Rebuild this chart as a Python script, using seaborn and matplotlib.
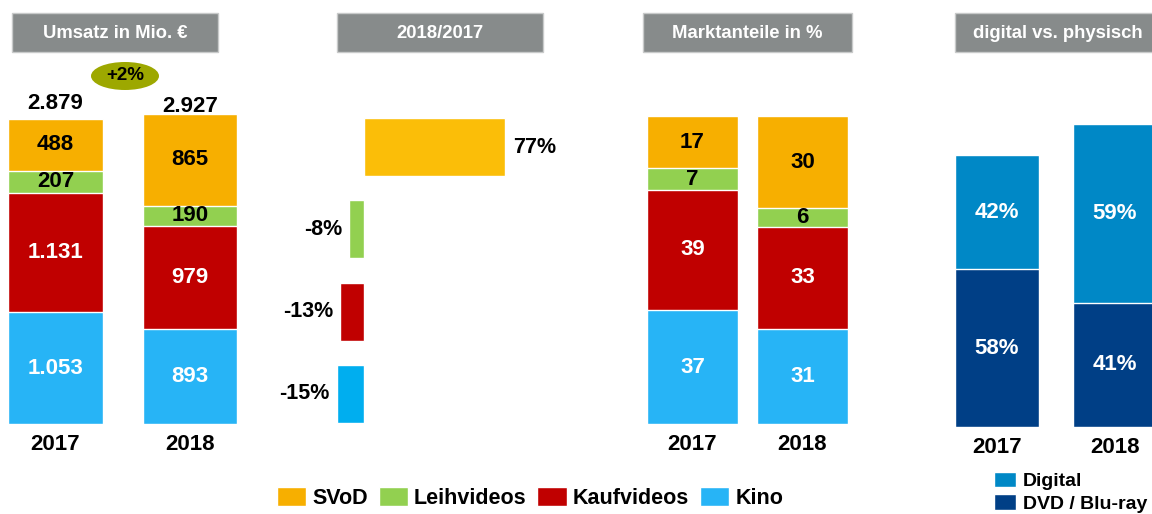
import matplotlib
matplotlib.use("Agg")
import matplotlib.pyplot as plt
from matplotlib.patches import Rectangle, Ellipse, Patch
import numpy as np
import pandas as pd
import seaborn as sns

# data
years = ["2017", "2018"]
segments = ["Kino", "Kaufvideos", "Leihvideos", "SVoD"]  # bottom -> top
umsatz = {"Kino": [1053, 893], "Kaufvideos": [1131, 979],
          "Leihvideos": [207, 190], "SVoD": [488, 865]}
umsatz_total = [2879, 2927]
umsatz_change = "+2%"

change_cats = ["SVoD", "Leihvideos", "Kaufvideos", "Kino"]
change_pct = [77, -8, -13, -15]

anteile = {"Kino": [37, 31], "Kaufvideos": [39, 33],
           "Leihvideos": [7, 6], "SVoD": [17, 30]}

dig_segments = ["DVD / Blu-ray", "Digital"]  # bottom -> top
dig_values = {"DVD / Blu-ray": [1059, 834], "Digital": [767, 1200]}
dig_pct = {"DVD / Blu-ray": [58, 41], "Digital": [42, 59]}

titles = ["Umsatz in Mio. €", "2018/2017", "Marktanteile in %", "digital vs. physisch"]

# colours
stack_colors = {"SVoD": "#F7AF00", "Leihvideos": "#92D050",
                "Kaufvideos": "#C00000", "Kino": "#27B4F6"}
change_colors = {"SVoD": "#FBBE08", "Leihvideos": "#92D050",
                 "Kaufvideos": "#C00000", "Kino": "#00AEEF"}
dig_colors = {"Digital": "#0088C6", "DVD / Blu-ray": "#003F86"}
label_colors = {"SVoD": "black", "Leihvideos": "black",
                "Kaufvideos": "white", "Kino": "white"}

sns.set_style("white")
plt.rcParams["font.family"] = ["Liberation Sans", "DejaVu Sans"]
plt.rcParams["font.weight"] = "bold"
plt.rcParams["text.color"] = "black"
plt.rcParams["xtick.color"] = "black"

W, H = 1152, 514
fig = plt.figure(figsize=(W / 100, H / 100), dpi=100)
fig.patch.set_facecolor("white")


def px_axes(x0, x1, y0, y1):
    return fig.add_axes([x0 / W, 1 - y1 / H, (x1 - x0) / W, (y1 - y0) / H])


def de_fmt(v):
    return f"{v:,}".replace(",", ".")


def clean(ax):
    for s in ax.spines.values():
        s.set_visible(False)
    ax.set_ylabel("")
    ax.set_xlabel("")
    ax.set_yticks([])
    ax.tick_params(axis="x", length=0, pad=7, labelsize=16, labelcolor="black")
    for t in ax.get_xticklabels():
        t.set_fontweight("bold")
    ax.set_facecolor("none")


def stacked(ax, data, order, colors, width, fmt, txtcolors):
    df = pd.DataFrame(data, index=years)[order]
    cum = df.cumsum(axis=1)
    # draw tallest first so lower segments overlay
    for seg in order[::-1]:
        sns.barplot(x=years, y=cum[seg].values, color=colors[seg], saturation=1,
                    width=width, edgecolor="white", linewidth=1, ax=ax)
    for seg in order:
        mids = cum[seg] - df[seg] / 2
        for i, y in enumerate(mids):
            ax.text(i, y, fmt(seg, i, df[seg].iloc[i]), ha="center", va="center",
                    fontsize=16, fontweight="bold", color=txtcolors[seg])
    return cum


# title boxes
boxes = [(12, 218), (337, 543), (643, 852), (955, 1160)]
for (x0, x1), t in zip(boxes, titles):
    fig.add_artist(Rectangle((x0 / W, 1 - 52 / H), (x1 - x0) / W, 39 / H,
                             transform=fig.transFigure, facecolor="#878B8B",
                             edgecolor="#C8CACA", linewidth=1))
    fig.text((x0 + x1) / 2 / W, 1 - 33 / H, t, ha="center", va="center",
             color="white", fontsize=13.3, fontweight="bold")

# panel 1: Umsatz
ax1 = px_axes(-11.75, 257.25, 60, 424)
cum1 = stacked(ax1, umsatz, segments, stack_colors, 0.706,
               lambda s, i, v: de_fmt(v), label_colors)
ax1.set_xlim(-0.5, 1.5)
ax1.set_ylim(0, 364 * 2879 / 305)
clean(ax1)
for i, (tot, off) in enumerate(zip(umsatz_total, [7, 1.5])):
    ax1.annotate(de_fmt(tot), (i, tot), xytext=(0, off), textcoords="offset points",
                 ha="center", va="baseline", fontsize=16, fontweight="bold")
fig.add_artist(Ellipse((125 / W, 1 - 76 / H), 68 / W, 28 / H,
                       transform=fig.transFigure, facecolor="#9DA800", edgecolor="none"))
fig.text(125 / W, 1 - 76 / H, umsatz_change, ha="center", va="center",
         fontsize=13.5, fontweight="bold")

# panel 2: change 2018/2017
ax2 = px_axes(300, 600, 106, 435)
sns.barplot(x=change_pct, y=change_cats, hue=change_cats, palette=change_colors,
            saturation=1, orient="h", width=0.705, legend=False,
            edgecolor="white", linewidth=1, ax=ax2)
ax2.set_xlim((300 - 364) / 1.83, (600 - 364) / 1.83)
ax2.set_ylim(3.5, -0.5)
for s in ax2.spines.values():
    s.set_visible(False)
ax2.set_xticks([])
ax2.set_yticks([])
ax2.set_xlabel("")
ax2.set_ylabel("")
ax2.set_facecolor("none")
for i, v in enumerate(change_pct):
    ax2.annotate(f"{v}%", (v, i), xytext=(6 if v > 0 else -5, 0),
                 textcoords="offset points", ha="left" if v > 0 else "right",
                 va="center", fontsize=15.5, fontweight="bold",
                 family=["Liberation Sans Narrow", "Liberation Sans"])

# panel 3: Marktanteile
ax3 = px_axes(637.5, 857.5, 60, 424)
stacked(ax3, anteile, segments, stack_colors, 0.827,
        lambda s, i, v: str(v), label_colors)
ax3.set_xlim(-0.5, 1.5)
ax3.set_ylim(0, 364 / 3.08)
clean(ax3)

# panel 4: digital vs physisch
ax4 = px_axes(938, 1152, 60, 427)
stacked(ax4, dig_values, dig_segments, dig_colors, 0.712,
        lambda s, i, v: f"{dig_pct[s][i]}%", {"Digital": "white", "DVD / Blu-ray": "white"})
ax4.set_xlim(-0.5, (1152 - 997) / 118)
ax4.set_ylim(0, 367 * 1826 / 272)
clean(ax4)

# legends
main_handles = [Patch(facecolor=stack_colors[s], edgecolor="white") for s in change_cats]
fig.legend(main_handles, change_cats, loc="center", bbox_to_anchor=(530 / W, 1 - 498 / H),
           ncol=4, frameon=False, prop={"size": 15.5, "weight": "bold"},
           handlelength=1.35, handleheight=1.0, handletextpad=0.3, columnspacing=0.5)
dig_handles = [Patch(facecolor=dig_colors[s], edgecolor="white") for s in ["Digital", "DVD / Blu-ray"]]
fig.legend(dig_handles, ["Digital", "DVD / Blu-ray"], loc="upper left",
           bbox_to_anchor=(986 / W, 1 - 464 / H), ncol=1, frameon=False,
           prop={"size": 14, "weight": "bold"}, handlelength=1.15, handleheight=0.85,
           handletextpad=0.35, labelspacing=0.2, borderaxespad=0)

fig.savefig("out.png", dpi=100)
